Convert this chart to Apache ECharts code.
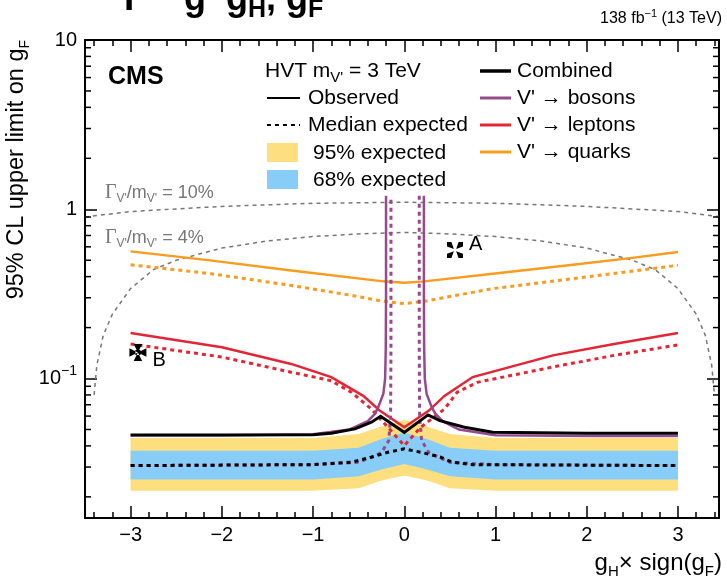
<!DOCTYPE html>
<html><head><meta charset="utf-8">
<script src="https://cdn.jsdelivr.net/npm/echarts@6/dist/echarts.min.js"></script>
<style>html,body{margin:0;padding:0;background:#fff}#c{width:727px;height:584px}</style>
</head><body><div id="c"></div>
<script>
// ---------- data ----------
const combinedObs = [[-3,0.0464],[-2,0.0464],[-1,0.0466],[-0.8,0.0475],[-0.54,0.0504],[-0.36,0.0552],[-0.26,0.0598],[0,0.0481],[0.26,0.061],[0.39,0.0564],[0.66,0.0515],[0.97,0.0481],[2,0.0475],[3,0.0475]];
const combinedExp = [[-3,0.0306],[-1,0.031],[-0.58,0.032],[-0.36,0.0343],[-0.18,0.0367],[0,0.0384],[0.18,0.0367],[0.4,0.0343],[0.53,0.032],[0.75,0.031],[3,0.0306]];
const bandX    = [-3, -1, -0.5, -0.25, 0, 0.25, 0.5, 1, 3];
const band95Lo = [0.0217,0.0217,0.0225,0.025,0.0267,0.025,0.0225,0.0217,0.0217];
const band68Lo = [0.0253,0.0253,0.0265,0.029,0.0313,0.029,0.0265,0.0253,0.0253];
const band68Hi = [0.0375,0.0375,0.039,0.044,0.048,0.044,0.039,0.0375,0.0375];
const band95Hi = [0.0446,0.0446,0.047,0.052,0.057,0.052,0.047,0.0446,0.0446];
const leptonsObs = [[-3,0.186],[-2,0.153],[-1.24,0.122],[-0.8,0.102],[-0.45,0.079],[-0.27,0.0647],[0,0.0515],[0.27,0.0647],[0.44,0.079],[0.75,0.102],[1.63,0.137],[2.3,0.16],[3,0.186]];
const leptonsExp = [[-3,0.16],[-2,0.134],[-1.24,0.109],[-0.8,0.097],[-0.58,0.083],[-0.36,0.066],[-0.18,0.0515],[0,0.0402],[0.18,0.0515],[0.44,0.066],[0.58,0.083],[0.8,0.095],[1.63,0.117],[2.3,0.137],[3,0.158]];
const quarksObs = [[-3,0.564],[-2.13,0.499],[-1.24,0.435],[-0.23,0.375],[0,0.368],[0.22,0.375],[0.97,0.416],[1.85,0.47],[2.52,0.518],[3,0.56]];
const quarksExp = [[-3,0.47],[-2.13,0.417],[-1.24,0.355],[-0.58,0.31],[-0.23,0.286],[0,0.277],[0.22,0.286],[0.97,0.34],[1.85,0.389],[3,0.467]];
const bosonsObsLeft  = [[-3,0.0462],[-2,0.0462],[-1,0.0468],[-0.6,0.05],[-0.4,0.056],[-0.32,0.062],[-0.285,0.068],[-0.23,0.081],[-0.21,0.1],[-0.203,0.15],[-0.2,0.3],[-0.2,1.2]];
const bosonsObsRight = [[0.215,1.2],[0.215,0.3],[0.218,0.15],[0.225,0.1],[0.245,0.081],[0.3,0.068],[0.34,0.062],[0.42,0.056],[0.6,0.05],[1,0.0462],[2,0.0458],[3,0.0458]];
const bosonsExpLeft  = [[-3,0.0306],[-1,0.031],[-0.5,0.032],[-0.25,0.0365],[-0.17,0.043],[-0.15,0.06],[-0.146,0.15],[-0.146,1.2]];
const bosonsExpRight = [[0.164,1.2],[0.164,0.15],[0.168,0.06],[0.19,0.043],[0.27,0.0365],[0.5,0.032],[1,0.031],[3,0.0306]];
const width10 = [[-3.5,0.9],[-3,0.97],[-2,1.04],[-1,1.085],[0,1.1],[1,1.085],[2,1.04],[3,0.97],[3.45,0.905]];
const width4  = [[-3.4,0.08],[-3.37,0.12],[-3.3,0.18],[-3.2,0.24],[-3,0.34],[-2.75,0.44],[-2.5,0.5],[-2,0.59],[-1.5,0.65],[-1,0.69],[-0.5,0.715],[0,0.73],[0.5,0.715],[1,0.69],[1.5,0.65],[2,0.59],[2.5,0.5],[2.75,0.44],[3,0.34],[3.2,0.24],[3.3,0.18],[3.37,0.12],[3.4,0.08]];
const benchmarkNames = ['A','B'];
const benchmarkPoints = [[0.556,0.574],[-2.92,0.1426]];
const yMajorValues = [0.1, 1, 10];
const yMajorLabels = ['10{sup|−1}', '1', '10'];
const yMinorTicks = [0.02,0.03,0.04,0.05,0.06,0.07,0.08,0.09,0.2,0.3,0.4,0.5,0.6,0.7,0.8,0.9,2,3,4,5,6,7,8,9];

// ---------- styling ----------
const FONT = "'Liberation Sans', Arial, Helvetica, sans-serif";
const X_MIN = -3.5, X_MAX = 3.45, Y_MIN = 0.015, Y_MAX = 10;
const C = {orange:'#f89c20', red:'#e42536', purple:'#964a8b', yellow:'#fddf80', blue:'#87cdf8', gray:'#777777'};

function yLabel(v){
  for (let i=0;i<yMajorValues.length;i++) if (Math.abs(Math.log10(v)-Math.log10(yMajorValues[i]))<1e-6) return yMajorLabels[i];
  return '';
}
function xLabel(v){
  if (Math.abs(v-Math.round(v))>1e-9) return '';
  return v<0 ? '\u2212'+Math.abs(v) : String(v);
}
const axisBase = {
  axisLine:{show:true, onZero:false, lineStyle:{color:'#000', width:2}},
  splitLine:{show:false}
};
const tickStyle = {color:'#000', width:1.5};
const xAxes = [
  Object.assign({type:'value', min:X_MIN, max:X_MAX, splitNumber:7, position:'bottom',
    axisTick:{show:true, inside:true, length:12, lineStyle:tickStyle},
    minorTick:{show:true, splitNumber:5, length:6, lineStyle:tickStyle},
    axisLabel:{show:true, formatter:xLabel, fontFamily:FONT, fontSize:20, color:'#000', margin:7, showMinLabel:false, showMaxLabel:false}}, axisBase),
  Object.assign({type:'value', min:X_MIN, max:X_MAX, splitNumber:7, position:'top',
    axisTick:{show:true, inside:true, length:12, lineStyle:tickStyle},
    minorTick:{show:true, splitNumber:5, length:6, lineStyle:tickStyle},
    axisLabel:{show:false}}, axisBase)
];
const yAxes = [
  Object.assign({type:'log', logBase:10, min:Y_MIN, max:Y_MAX, position:'left',
    axisTick:{show:true, inside:true, length:12, lineStyle:tickStyle},
    axisLabel:{show:true, formatter:yLabel, fontFamily:FONT, fontSize:20, color:'#000', margin:8, showMinLabel:false, lineHeight:28,
      rich:{sup:{fontFamily:FONT, fontSize:14, color:'#000', verticalAlign:'top', lineHeight:16}}}}, axisBase),
  Object.assign({type:'log', logBase:10, min:Y_MIN, max:Y_MAX, position:'right',
    axisTick:{show:true, inside:true, length:12, lineStyle:tickStyle},
    axisLabel:{show:false}}, axisBase)
];

function line(name, data, color, width, dashed, z){
  return {type:'line', name, data, symbol:'none', z: z||3, animation:false,
    lineStyle:{color, width, type: dashed ? [4,4] : 'solid', cap:'butt', join:'miter'}};
}

const series = [
  {type:'custom', name:'bands', z:1, animation:false, silent:true, data:[[0,0.03]],
    renderItem(params, api){
      const poly = (lo, hi) => {
        const pts = [];
        bandX.forEach((x,i)=>pts.push(api.coord([x,hi[i]])));
        for (let i=bandX.length-1;i>=0;i--) pts.push(api.coord([bandX[i],lo[i]]));
        return pts;
      };
      return {type:'group', children:[
        {type:'polygon', shape:{points:poly(band95Lo,band95Hi)}, style:{fill:C.yellow}},
        {type:'polygon', shape:{points:poly(band68Lo,band68Hi)}, style:{fill:C.blue}}
      ]};
    }},
  {type:'custom', name:'yMinorTicks', z:10, animation:false, silent:true, clip:false,
    data: yMinorTicks.map(v=>[0,v]),
    renderItem(params, api){
      const v = api.value(1);
      const l = api.coord([X_MIN, v]), r = api.coord([X_MAX, v]);
      return {type:'group', children:[
        {type:'line', shape:{x1:l[0],y1:l[1],x2:l[0]+6,y2:l[1]}, style:{stroke:'#000',lineWidth:1.5}},
        {type:'line', shape:{x1:r[0],y1:r[1],x2:r[0]-6,y2:r[1]}, style:{stroke:'#000',lineWidth:1.5}}
      ]};
    }},
  line('width10', width10, C.gray, 1.5, true, 2),
  line('width4', width4, C.gray, 1.5, true, 2),
  line('quarksExp', quarksExp, C.orange, 3, true),
  line('quarksObs', quarksObs, C.orange, 2.5, false),
  line('leptonsExp', leptonsExp, C.red, 3, true),
  line('leptonsObs', leptonsObs, C.red, 2.5, false),
  line('bosonsExpL', bosonsExpLeft, C.purple, 3, true),
  line('bosonsExpR', bosonsExpRight, C.purple, 3, true),
  line('bosonsObsL', bosonsObsLeft, C.purple, 2.5, false),
  line('bosonsObsR', bosonsObsRight, C.purple, 2.5, false),
  line('combinedExp', combinedExp, '#000', 3, true, 4),
  line('combinedObs', combinedObs, '#000', 3, false, 5),
  {type:'scatter', name:'A', z:6, animation:false, data:[benchmarkPoints[0]],
    symbol:'path://M8.6 8.6 L0 5.5 L0 0 L5.5 0 Z M11.4 8.6 L14.5 0 L20 0 L20 5.5 Z M11.4 11.4 L20 14.5 L20 20 L14.5 20 Z M8.6 11.4 L5.5 20 L0 20 L0 14.5 Z',
    symbolSize:16, itemStyle:{color:'#000', opacity:1},
    label:{show:true, formatter:benchmarkNames[0], position:'right', distance:6, offset:[0,-6], fontFamily:FONT, fontSize:20, color:'#000', opacity:1, textBorderWidth:0}},
  {type:'scatter', name:'B', z:6, animation:false, data:[benchmarkPoints[1]],
    symbol:'path://M10 10 L5 0 L15 0 Z M10 10 L5 20 L15 20 Z M10 10 L0 5 L0 15 Z M10 10 L20 5 L20 15 Z M7 7 L13 7 L13 13 L7 13 Z',
    symbolSize:17, itemStyle:{color:'#000', opacity:1},
    label:{show:true, formatter:benchmarkNames[1], position:'right', distance:6, offset:[0,8], fontFamily:FONT, fontSize:20, color:'#000', opacity:1, textBorderWidth:0}}
];

// legend & annotations (text kept as real text)
const items = [];
const T = (x, y, text, opts) => items.push(Object.assign({type:'text', x, y, z:20,
  style:Object.assign({text, fontFamily:FONT, fontSize:21, fill:'#000', verticalAlign:'middle', align:'left'}, opts||{})}));
const L = (x1, x2, y, color, width, dash) => items.push({type:'line', z:20,
  shape:{x1, y1:y, x2, y2:y}, style:{stroke:color, lineWidth:width, lineDash:dash||null}});
const R = (x, y, w, h, color) => items.push({type:'rect', z:20, shape:{x, y, width:w, height:h}, style:{fill:color}});
const subTok = (size, extra) => Object.assign({fontFamily:FONT, fontSize:size, verticalAlign:'bottom', lineHeight:size+2}, extra||{});
const supTok = (size, extra) => Object.assign({fontFamily:FONT, fontSize:size, verticalAlign:'top', lineHeight:size+2}, extra||{});

T(265, 71, 'HVT m{s|V\'} = 3 TeV', {lineHeight:28, rich:{s:subTok(15)}});
L(267, 300, 98, '#000', 2); T(308, 98, 'Observed');
L(267, 300, 125, '#000', 2, [4,4]); T(308, 125, 'Median expected');
R(267, 143, 31, 19, C.yellow); T(313, 153, '95% expected');
R(267, 170, 31, 19, C.blue); T(313, 180, '68% expected');
L(480, 511, 71, '#000', 3.5); T(517, 71, 'Combined');
L(480, 511, 98, C.purple, 3); T(517, 98, 'V\' \u2192 bosons');
L(480, 511, 125, C.red, 3); T(517, 125, 'V\' \u2192 leptons');
L(480, 511, 152, C.orange, 3); T(517, 152, 'V\' \u2192 quarks');

T(108, 77, 'CMS', {fontWeight:'bold', fontSize:25});
T(722, 19, '138 fb{s|\u22121} (13 TeV)', {align:'right', fontSize:16, lineHeight:22, rich:{s:supTok(11)}});
const gammaRich = {g:{fontFamily:"'Liberation Serif', serif", fontSize:20, fill:C.gray, lineHeight:24}, s:subTok(12, {fill:C.gray})};
T(105, 193, '{g|\u0393}{s|V\'}/m{s|V\'} = 10%', {fontSize:18, fill:C.gray, lineHeight:24, rich:gammaRich});
T(105, 238, '{g|\u0393}{s|V\'}/m{s|V\'} = 4%', {fontSize:18, fill:C.gray, lineHeight:24, rich:gammaRich});
// axis titles
T(722, 563, 'g{s|H}\u00d7 sign(g{s|F})', {align:'right', fontSize:24, lineHeight:32, rich:{s:subTok(15)}});
items.push({type:'text', x:17, y:40, rotation:Math.PI/2, z:20,
  style:{text:'95% CL upper limit on g{s|F}', fontFamily:FONT, fontSize:23.5, fill:'#000', align:'right', verticalAlign:'middle', lineHeight:30,
    rich:{s:subTok(14)}}});
// cropped title at top
T(124, 0, 'I', {fontWeight:'bold', fontSize:37});
T(184, 0, 'g  g{s|H}, g{s|F}', {fontWeight:'bold', fontSize:36, lineHeight:46, rich:{s:subTok(25, {fontWeight:'bold'})}});

const chart = echarts.init(document.getElementById('c'), null, {renderer:'canvas'});
chart.setOption({
  animation:false,
  backgroundColor:'#fff',
  grid:{left:85, right:8, top:40, bottom:66, containLabel:false},
  xAxis:xAxes, yAxis:yAxes,
  series: series.map(s => Object.assign({xAxisIndex:0, yAxisIndex:0}, s)),
  graphic: items
});
</script></body></html>
